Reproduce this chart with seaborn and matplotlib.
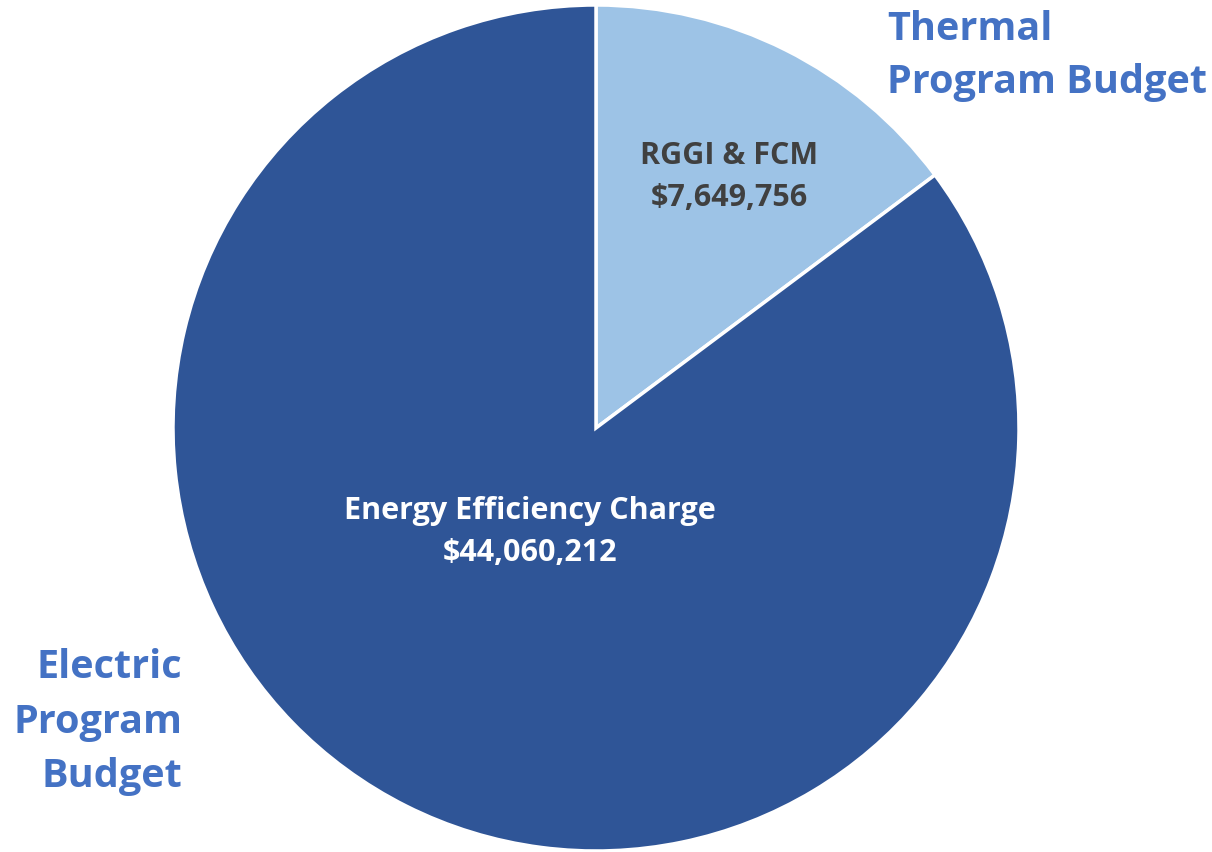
import matplotlib
matplotlib.use("Agg")
import matplotlib.pyplot as plt
import seaborn as sns

categories = ["RGGI & FCM", "Energy Efficiency Charge"]
values = [7649756, 44060212]
colors = ["#9DC3E6", "#2F5597"]
group_labels = ["Thermal\nProgram Budget", "Electric\nProgram\nBudget"]

sns.set_theme(style="white")
plt.rcParams['font.family'] = ['Open Sans', 'DejaVu Sans']

W, H = 1212, 852
fig = plt.figure(figsize=(W / 100, H / 100), dpi=100)
cx, cy, r = 596, 428, 423
ax = fig.add_axes([(cx - r) / W, (H - cy - r) / H, 2 * r / W, 2 * r / H])
ax.pie(values, colors=colors, startangle=90, counterclock=False, radius=1.0,
       wedgeprops=dict(edgecolor="white", linewidth=2.5))
ax.set_xlim(-1, 1)
ax.set_ylim(-1, 1)
ax.set_aspect("equal")
ax.axis("off")

def fx(x):
    return x / W

def fy(y):
    return 1 - y / H

# inner labels
fig.text(fx(729), fy(177), f"{categories[0]}\n${values[0]:,}", ha="center", va="center",
         fontsize=22, fontweight="bold", color="#404040", linespacing=1.52)
fig.text(fx(530), fy(532), f"{categories[1]}\n${values[1]:,}", ha="center", va="center",
         fontsize=22, fontweight="bold", color="white", linespacing=1.52)

# group labels
fig.text(fx(887), fy(56), group_labels[0], ha="left", va="center",
         fontsize=28.5, fontweight="bold", color="#4472C4", linespacing=1.5)
fig.text(fx(182), fy(722), group_labels[1], ha="right", va="center",
         fontsize=28.5, fontweight="bold", color="#4472C4", linespacing=1.5)

fig.savefig("out.png", dpi=100, facecolor="white")
